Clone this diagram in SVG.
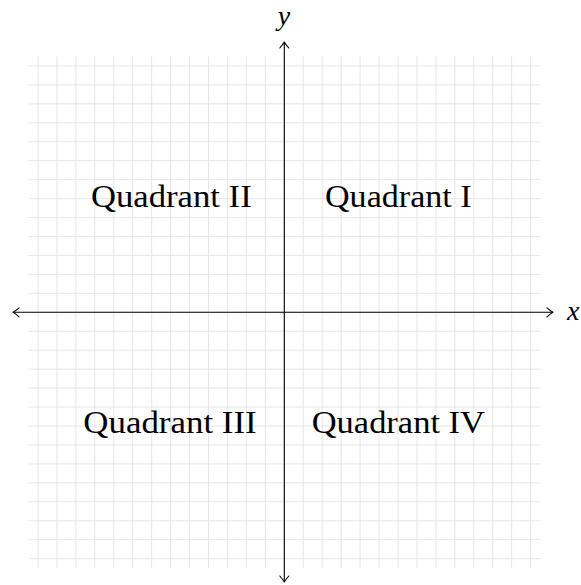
<svg xmlns="http://www.w3.org/2000/svg" width="581" height="585" viewBox="0 0 581 585">
<style>
.grid{stroke:#e3e3e3;stroke-width:0.9;fill:none}
.axis{stroke:#000;stroke-width:1.1;fill:none}
.head{stroke:#000;stroke-width:1.1;fill:none;stroke-linecap:round;stroke-linejoin:round}
.q{font-family:"Liberation Serif","Times New Roman",serif;font-size:31px;fill:#000}
.v{font-family:"Liberation Serif","Times New Roman",serif;font-style:italic;font-size:28px;fill:#000}
</style>
<defs>
<marker id="arr" viewBox="-8 -6 10 12" markerWidth="10" markerHeight="12" refX="0" refY="0" orient="auto-start-reverse" markerUnits="userSpaceOnUse">
<path class="head" d="M-6,-4.5 Q-2,-1 0,0 Q-2,1 -6,4.5"/>
</marker>
</defs>
<rect width="581" height="585" fill="#fff"/>
<g id="grid">
<path class="grid" d="M28.5,65.95H540.1M28.5,84.9H540.1M28.5,103.85H540.1M28.5,122.8H540.1M28.5,141.75H540.1M28.5,160.7H540.1M28.5,179.65H540.1M28.5,198.6H540.1M28.5,217.55H540.1M28.5,236.5H540.1M28.5,255.45H540.1M28.5,274.4H540.1M28.5,293.35H540.1M28.5,312.3H540.1M28.5,331.25H540.1M28.5,350.2H540.1M28.5,369.15H540.1M28.5,388.1H540.1M28.5,407.05H540.1M28.5,426H540.1M28.5,444.95H540.1M28.5,463.9H540.1M28.5,482.85H540.1M28.5,501.8H540.1M28.5,520.75H540.1M28.5,539.7H540.1M28.5,558.65H540.1
M37.95,56.5V568.1M56.9,56.5V568.1M75.85,56.5V568.1M94.8,56.5V568.1M113.75,56.5V568.1M132.7,56.5V568.1M151.65,56.5V568.1M170.6,56.5V568.1M189.55,56.5V568.1M208.5,56.5V568.1M227.45,56.5V568.1M246.4,56.5V568.1M265.35,56.5V568.1M284.3,56.5V568.1M303.25,56.5V568.1M322.2,56.5V568.1M341.15,56.5V568.1M360.1,56.5V568.1M379.05,56.5V568.1M398,56.5V568.1M416.95,56.5V568.1M435.9,56.5V568.1M454.85,56.5V568.1M473.8,56.5V568.1M492.75,56.5V568.1M511.7,56.5V568.1M530.65,56.5V568.1"/>
</g>
<g id="connectors">
<line id="x-axis" class="axis" x1="13" y1="312.3" x2="553" y2="312.3" marker-start="url(#arr)" marker-end="url(#arr)"/>
<line id="y-axis" class="axis" x1="284.3" y1="582" x2="284.3" y2="42" marker-start="url(#arr)" marker-end="url(#arr)"/>
</g>
<g id="label-x"><text class="v" x="567" y="319.5">x</text></g>
<g id="label-y"><text class="v" x="284" y="25" text-anchor="middle">y</text></g>
<g id="quadrant-1"><text class="q" x="325" y="206.7" textLength="146.7" lengthAdjust="spacingAndGlyphs">Quadrant I</text></g>
<g id="quadrant-2"><text class="q" x="91" y="206.7" textLength="160.7" lengthAdjust="spacingAndGlyphs">Quadrant II</text></g>
<g id="quadrant-3"><text class="q" x="83.3" y="433.3" textLength="173.4" lengthAdjust="spacingAndGlyphs">Quadrant III</text></g>
<g id="quadrant-4"><text class="q" x="311.7" y="433.3" textLength="173.3" lengthAdjust="spacingAndGlyphs">Quadrant IV</text></g>
</svg>
